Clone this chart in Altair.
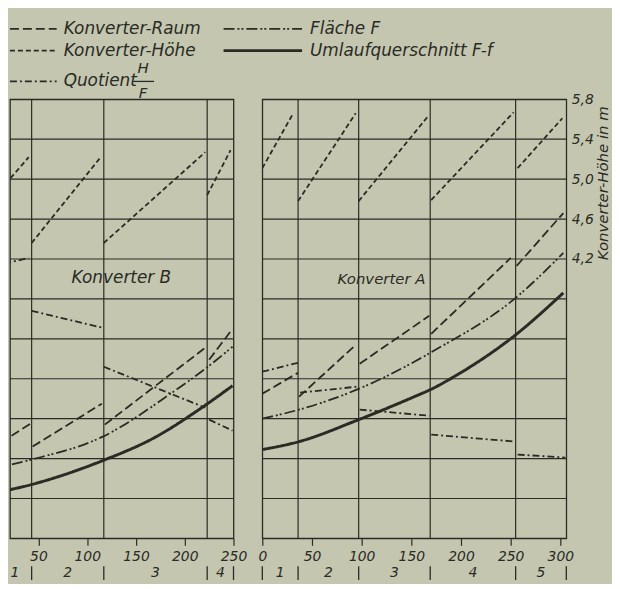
import altair as alt
import pandas as pd

INK = "#2a2b24"
PAPER = "#c4c6b0"
FONT = "DejaVu Sans"

# ---------------- categories / styles ----------------
series_names = ["Konverter-Raum", "Konverter-Höhe", "Quotient H/F", "Fläche F", "Umlaufquerschnitt F-f"]
legend_labels = ["Konverter-Raum", "Konverter-Höhe", "Quotient", "Fläche F", "Umlaufquerschnitt F-f"]
dash_range = [[9, 4], [5, 3], [7, 3, 2, 3], [11, 3, 2, 2, 2, 3], [1, 0]]
THIN, THICK = 1.8, 3.0
solid_series = "Umlaufquerschnitt F-f"

y_grid = [1.4, 1.8, 2.2, 2.6, 3.0, 3.4, 3.8, 4.2, 4.6, 5.0, 5.4, 5.8]
y_labels = [4.2, 4.6, 5.0, 5.4, 5.8]

# ---------------- Konverter B ----------------
B_bounds = [0, 43, 117, 223, 250]
B_sections = ["1", "2", "3", "4"]
B_ticks = [50, 100, 150, 200, 250]

B_hoehe_x = [0, 40, 43, 113, 117, 221, 223, 247]
B_hoehe_y = [4.77, 5.22, 4.36, 5.21, 4.36, 5.27, 4.84, 5.29]
B_hoehe_seg = [1, 1, 2, 2, 3, 3, 4, 4]

B_raum_x = [0, 42, 44, 115, 118, 221, 225, 249]
B_raum_y = [2.29, 2.55, 2.32, 2.75, 2.54, 3.31, 3.19, 3.50]
B_raum_seg = [1, 1, 2, 2, 3, 3, 4, 4]

B_quot_x = [0, 40, 43, 116, 117, 221, 225, 249]
B_quot_y = [4.12, 4.21, 3.68, 3.51, 3.12, 2.71, 2.59, 2.48]
B_quot_seg = [1, 1, 2, 2, 3, 3, 4, 4]

B_flaeche_x = [0, 13, 43, 116, 184, 221, 249]
B_flaeche_y = [2.09, 2.12, 2.19, 2.42, 2.84, 3.10, 3.32]

B_umlauf_x = [0, 13, 43, 116, 169, 216, 249]
B_umlauf_y = [1.84, 1.87, 1.94, 2.18, 2.41, 2.70, 2.93]

# ---------------- Konverter A ----------------
A_bounds = [0, 36, 97, 169, 255, 306]
A_sections = ["1", "2", "3", "4", "5"]
A_ticks = [0, 50, 100, 150, 200, 250, 300]

A_hoehe_x = [0, 30, 36, 94, 97, 166, 170, 253, 257, 302]
A_hoehe_y = [5.11, 5.64, 4.78, 5.66, 4.78, 5.62, 4.79, 5.67, 5.11, 5.61]
A_hoehe_seg = [1, 1, 2, 2, 3, 3, 4, 4, 5, 5]

A_raum_x = [0, 36, 37, 93, 98, 168, 170, 250, 256, 303]
A_raum_y = [2.85, 3.06, 2.82, 3.33, 3.15, 3.63, 3.45, 4.21, 4.13, 4.66]
A_raum_seg = [1, 1, 2, 2, 3, 3, 4, 4, 5, 5]

A_quot_x = [0, 36, 38, 95, 98, 168, 170, 255, 257, 305]
A_quot_y = [3.07, 3.16, 2.86, 2.92, 2.69, 2.63, 2.44, 2.37, 2.24, 2.21]
A_quot_seg = [1, 1, 2, 2, 3, 3, 4, 4, 5, 5]

A_flaeche_x = [0, 37, 95, 153, 169, 255, 303]
A_flaeche_y = [2.60, 2.69, 2.89, 3.17, 3.26, 3.81, 4.26]

A_umlauf_x = [0, 37, 97, 153, 169, 198, 255, 303]
A_umlauf_y = [2.29, 2.37, 2.59, 2.82, 2.89, 3.05, 3.44, 3.86]


def frame(name, xs, ys, segs=None):
    if segs is None:
        segs = [1] * len(xs)
    return pd.DataFrame({"x": xs, "y": ys, "seg": segs, "series": name})


B_df = pd.concat([
    frame("Konverter-Raum", B_raum_x, B_raum_y, B_raum_seg),
    frame("Konverter-Höhe", B_hoehe_x, B_hoehe_y, B_hoehe_seg),
    frame("Quotient H/F", B_quot_x, B_quot_y, B_quot_seg),
    frame("Fläche F", B_flaeche_x, B_flaeche_y),
    frame("Umlaufquerschnitt F-f", B_umlauf_x, B_umlauf_y),
], ignore_index=True)

A_df = pd.concat([
    frame("Konverter-Raum", A_raum_x, A_raum_y, A_raum_seg),
    frame("Konverter-Höhe", A_hoehe_x, A_hoehe_y, A_hoehe_seg),
    frame("Quotient H/F", A_quot_x, A_quot_y, A_quot_seg),
    frame("Fläche F", A_flaeche_x, A_flaeche_y),
    frame("Umlaufquerschnitt F-f", A_umlauf_x, A_umlauf_y),
], ignore_index=True)

PANEL_H = 442
dash_scale = alt.Scale(domain=series_names, range=dash_range)
is_solid = alt.datum.series == solid_series


def panel(df, bounds, names, tick_values, x_min, x_max, width, tag, tag_x, tag_y, tag_size, right):
    xs = alt.Scale(domain=[x_min, x_max], nice=False, zero=False)
    ys = alt.Scale(domain=[y_grid[0], y_grid[-1]], nice=False, zero=False)
    if right:
        yaxis = alt.Axis(
            orient="right", values=y_labels, grid=False, ticks=False, domain=False,
            labelExpr="replace(format(datum.value, '.1f'), '.', ',')",
            labelPadding=5, labelFontSize=14, labelAlign="left", labelBaseline="middle",
            labelFont=FONT, labelFontStyle="italic", labelColor=INK,
            title="Konverter-Höhe in m", titleAngle=270, titleX=36.5, titleY=84,
            titleAlign="center", titleBaseline="middle", titleFontSize=15,
            titleFont=FONT, titleFontStyle="italic", titleFontWeight="normal", titleColor=INK,
        )
    else:
        yaxis = None
    xaxis = alt.Axis(
        values=tick_values, grid=False, domain=False, tickSize=7, tickColor=INK, tickWidth=1.2,
        labelPadding=4, labelFontSize=14, labelFlush=False, labelBaseline="top", title=None,
        format="d", labelFont=FONT, labelFontStyle="italic", labelColor=INK,
    )

    grid_b = [b for b in bounds if x_min < b < x_max]
    sep_b = [b for b in bounds if x_min <= b <= x_max]
    centers = [max((bounds[i] + bounds[i + 1]) / 2, x_min + 5) for i in range(len(names))]

    base = alt.Chart(df)
    enc = dict(
        x=alt.X("x:Q", scale=xs, axis=xaxis),
        y=alt.Y("y:Q", scale=ys, axis=yaxis),
        detail="seg:N",
        strokeDash=alt.StrokeDash("series:N", scale=dash_scale, legend=None),
    )
    dashed = base.transform_filter(~is_solid).mark_line(
        clip=True, color=INK, strokeWidth=THIN, interpolate="monotone").encode(**enc)
    solid = base.transform_filter(is_solid).mark_line(
        clip=True, color=INK, strokeWidth=THICK, interpolate="monotone").encode(**enc)

    vgrid = alt.Chart(pd.DataFrame({"b": grid_b})).mark_rule(color=INK, strokeWidth=1.2, clip=True).encode(
        x=alt.X("b:Q", scale=xs, axis=xaxis)
    )
    hgrid = alt.Chart(pd.DataFrame({"g": y_grid})).mark_rule(color=INK, strokeWidth=1.2, clip=True).encode(
        y=alt.Y("g:Q", scale=ys, axis=yaxis)
    )
    tag_text = alt.Chart(pd.DataFrame({"t": [tag], "x": [tag_x], "y": [tag_y]})).mark_text(
        font=FONT, fontStyle="italic", fontSize=tag_size, color=INK, baseline="middle", align="center"
    ).encode(x=alt.X("x:Q", scale=xs, axis=xaxis), y=alt.Y("y:Q", scale=ys, axis=yaxis), text="t:N")
    sec_text = alt.Chart(pd.DataFrame({"cx": centers, "n": names})).mark_text(
        font=FONT, fontStyle="italic", fontSize=14, color=INK, baseline="middle", align="center"
    ).encode(x=alt.X("cx:Q", scale=xs, axis=xaxis), y=alt.value(PANEL_H + 35), text="n:N")
    seps = alt.Chart(pd.DataFrame({"b": sep_b})).mark_rule(color=INK, strokeWidth=1.3).encode(
        x=alt.X("b:Q", scale=xs, axis=xaxis), y=alt.value(PANEL_H + 28), y2=alt.value(PANEL_H + 42)
    )
    return alt.layer(vgrid, hgrid, dashed, solid, tag_text, sec_text, seps).properties(
        width=width, height=PANEL_H)


pB = panel(B_df, B_bounds, B_sections, B_ticks, 20.8, 250, 225, "Konverter B", 135, 4.01, 17, False)
pA = panel(A_df, A_bounds, A_sections, A_ticks, 0, 306, 306, "Konverter A", 120, 4.0, 15, True)

# ---------------- legend ----------------
leg_col = [0, 0, 0, 1, 1]
leg_row = [0, 1, 2, 0, 1]
col_x0 = [0, 215]
col_x1 = [47, 294]
col_tx = [54, 302]
row_y = [18, 40, 71]
leg = pd.DataFrame({
    "series": series_names,
    "label": legend_labels,
    "x0": [col_x0[c] for c in leg_col],
    "x1": [col_x1[c] for c in leg_col],
    "tx": [col_tx[c] for c in leg_col],
    "y": [row_y[r] for r in leg_row],
})
LW, LH = 560, 89
lx = alt.Scale(domain=[0, LW], nice=False, zero=False)
ly = alt.Scale(domain=[0, LH], reverse=True, nice=False, zero=False)

leg_enc = dict(
    x=alt.X("x0:Q", scale=lx, axis=None), x2="x1:Q",
    y=alt.Y("y:Q", scale=ly, axis=None),
    strokeDash=alt.StrokeDash("series:N", scale=dash_scale, legend=None),
)
leg_dashed = alt.Chart(leg).transform_filter(~is_solid).mark_rule(color=INK, strokeWidth=THIN).encode(**leg_enc)
leg_solid = alt.Chart(leg).transform_filter(is_solid).mark_rule(color=INK, strokeWidth=THICK).encode(**leg_enc)
leg_text = alt.Chart(leg).mark_text(
    font=FONT, fontStyle="italic", fontSize=17, color=INK, align="left", baseline="middle"
).encode(x=alt.X("tx:Q", scale=lx, axis=None), y=alt.Y("y:Q", scale=ly, axis=None), text="label:N")
frac = pd.DataFrame({"t": ["H", "F"], "x": [134, 134], "y": [58, 83]})
frac_text = alt.Chart(frac).mark_text(
    font=FONT, fontStyle="italic", fontSize=15, color=INK, align="center", baseline="middle"
).encode(x=alt.X("x:Q", scale=lx, axis=None), y=alt.Y("y:Q", scale=ly, axis=None), text="t:N")
frac_bar = alt.Chart(pd.DataFrame({"x0": [124], "x1": [145], "y": [71]})).mark_rule(
    color=INK, strokeWidth=1.3
).encode(x=alt.X("x0:Q", scale=lx, axis=None), x2="x1:Q", y=alt.Y("y:Q", scale=ly, axis=None))

legend = alt.layer(leg_dashed, leg_solid, leg_text, frac_text, frac_bar).properties(
    width=LW, height=LH, view=alt.ViewBackground(stroke="transparent")
)

panels = alt.hconcat(pB, pA, spacing=29, bounds="flush")
chart = alt.vconcat(legend, panels, spacing=0, bounds="flush").properties(
    background=PAPER, padding=0
).configure_view(stroke=INK, strokeWidth=1.3)

chart.save("out.html", embed_options={"renderer": "svg", "actions": False})
